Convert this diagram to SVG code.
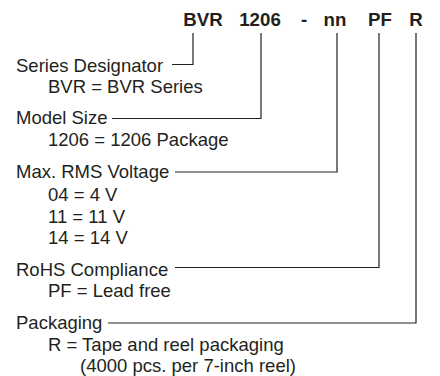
<svg xmlns="http://www.w3.org/2000/svg" width="440" height="376" viewBox="0 0 440 376">
<style>
.t{font-family:"Liberation Sans",Arial,Helvetica,sans-serif;font-size:18.5px;fill:#231f20}
.h{font-family:"Liberation Sans",Arial,Helvetica,sans-serif;font-size:18.7px;font-weight:bold;fill:#231f20;text-anchor:middle}
.c{fill:none;stroke:#231f20;stroke-width:1.2}
</style>
<rect width="440" height="376" fill="#fff"/>
<g id="title">
<text class="h" x="203" y="26">BVR</text>
<text class="h" x="260" y="26">1206</text>
<text class="h" x="304" y="26">-</text>
<text class="h" x="335" y="26">nn</text>
<text class="h" x="380" y="26">PF</text>
<text class="h" x="416" y="26">R</text>
</g>
<g id="series">
<text class="t" x="16" y="72">Series Designator</text>
<text class="t" x="48" y="93">BVR = BVR Series</text>
</g>
<g id="model">
<text class="t" x="16" y="124">Model Size</text>
<text class="t" x="48" y="146">1206 = 1206 Package</text>
</g>
<g id="voltage">
<text class="t" x="16" y="177.5">Max. RMS Voltage</text>
<text class="t" x="48" y="201">04 = 4 V</text>
<text class="t" x="48" y="222.5">11 = 11 V</text>
<text class="t" x="48" y="244">14 = 14 V</text>
</g>
<g id="rohs">
<text class="t" x="16" y="275.5">RoHS Compliance</text>
<text class="t" x="48" y="296.5">PF = Lead free</text>
</g>
<g id="packaging">
<text class="t" x="16" y="329">Packaging</text>
<text class="t" x="48" y="350.5">R = Tape and reel packaging</text>
<text class="t" x="80" y="372">(4000 pcs. per 7-inch reel)</text>
</g>
<g id="connectors">
<polyline class="c" points="172,64.5 193,64.5 193,33"/>
<polyline class="c" points="112,118.5 261,118.5 261,33"/>
<polyline class="c" points="175,172 337,172 337,33"/>
<polyline class="c" points="175,267.5 379,267.5 379,33"/>
<polyline class="c" points="108,323 416,323 416,33"/>
</g>
</svg>
